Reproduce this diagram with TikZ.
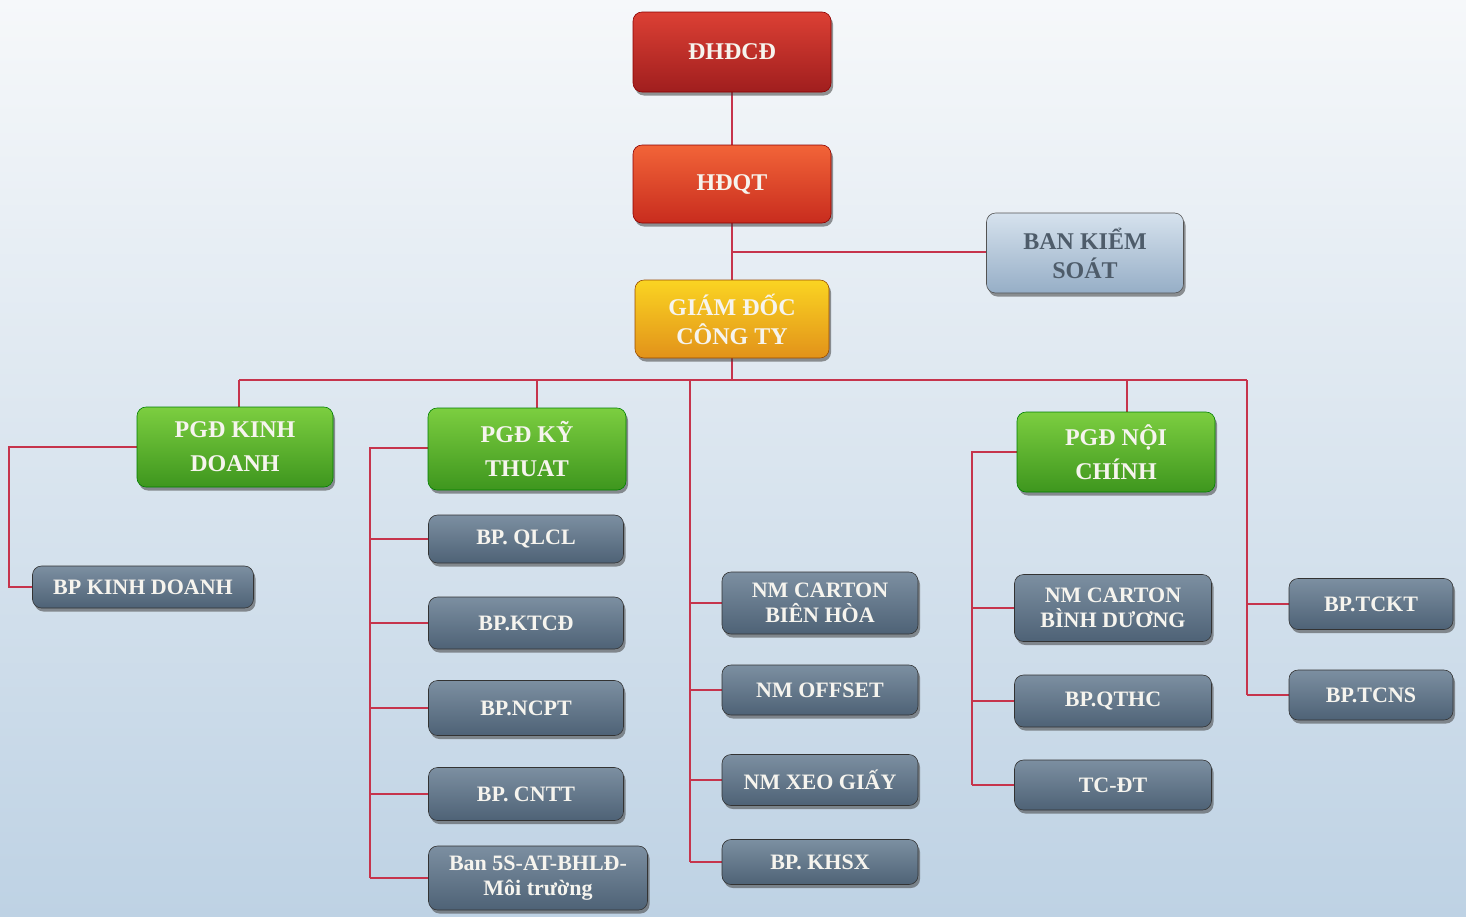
\documentclass[tikz,border=0pt]{standalone}
\usepackage{fontspec}
\setmainfont{Liberation Serif}
\usetikzlibrary{shadows}
\pgfdeclarelayer{bg}
\pgfdeclarelayer{lines}
\pgfsetlayers{bg,lines,main}
\definecolor{linered}{RGB}{198,52,76}
\definecolor{bgtop}{RGB}{246,248,250}
\definecolor{bgbot}{RGB}{190,210,228}
\definecolor{txtw}{RGB}{246,244,238}
\definecolor{txtb}{RGB}{78,92,106}
\begin{document}
\begin{tikzpicture}[x=1pt,y=-1pt,
  box/.style={rounded corners=9pt, align=center, inner sep=0pt, text=txtw,
    line width=0.6pt,
    drop shadow={shadow xshift=2pt, shadow yshift=-3.5pt, opacity=0.55, fill=black!75}},
  topfont/.style={font=\fontsize{24}{29}\selectfont\bfseries},
  grnfont/.style={font=\fontsize{24}{34}\selectfont\bfseries},
  gryfont/.style={font=\fontsize{22}{25}\selectfont\bfseries},
  redbox/.style={box, topfont, draw=black!45!red, top color={rgb,255:red,220;green,64;blue,52}, bottom color={rgb,255:red,160;green,30;blue,30}, minimum width=198pt, minimum height=80pt},
  orbox/.style={box, topfont, draw=black!45!red, top color={rgb,255:red,242;green,100;blue,56}, bottom color={rgb,255:red,200;green,44;blue,30}, minimum width=198pt, minimum height=78pt},
  goldbox/.style={box, topfont, draw=black!40!orange, top color={rgb,255:red,250;green,212;blue,34}, bottom color={rgb,255:red,226;green,146;blue,26}, minimum width=194pt, minimum height=78pt},
  lightbox/.style={box, topfont, text=txtb, draw=black!35!gray, top color={rgb,255:red,214;green,226;blue,238}, bottom color={rgb,255:red,150;green,174;blue,198}, minimum width=197pt, minimum height=80pt},
  grnbox/.style={box, grnfont, draw=black!50!green, top color={rgb,255:red,124;green,206;blue,64}, bottom color={rgb,255:red,62;green,150;blue,30}, minimum width=197pt, minimum height=80pt},
  grybox/.style={box, gryfont, draw=black!60!gray, top color={rgb,255:red,124;green,143;blue,161}, bottom color={rgb,255:red,78;green,98;blue,118}, minimum width=196pt, minimum height=50pt},
  conn/.style={draw=linered, line width=2.8pt}
]
\useasboundingbox (0,0) rectangle (1466,916);
\begin{pgfonlayer}{bg}
\fill[top color=bgtop, bottom color=bgbot] (0,0) rectangle (1466,916);
\end{pgfonlayer}

% top chain
\node[redbox] (dhdcd) at (732,52) {ĐHĐCĐ};
\node[orbox] (hdqt) at (732,184) {HĐQT};
\node[lightbox] (bks) at (1085,253) {BAN KIỂM\\SOÁT};
\node[goldbox] (gd) at (732,319) {GIÁM ĐỐC\\CÔNG TY};

% deputies
\node[grnbox, minimum width=196pt] (kd) at (235,447) {PGĐ KINH\\DOANH};
\node[grnbox, minimum width=198pt, minimum height=82pt] (kt) at (527,449) {PGĐ KỸ\\THUAT};
\node[grnbox, minimum width=198pt] (nc) at (1116,452) {PGĐ NỘI\\CHÍNH};

% departments
\node[grybox, minimum width=221pt, minimum height=42pt] (bpkd) at (143,587) {BP KINH DOANH};

\node[grybox, minimum width=195pt, minimum height=48pt] (qlcl) at (526,539) {BP. QLCL};
\node[grybox, minimum width=195pt, minimum height=52pt] (ktcd) at (526,623) {BP.KTCĐ};
\node[grybox, minimum width=195pt, minimum height=55pt] (ncpt) at (526,708) {BP.NCPT};
\node[grybox, minimum width=195pt, minimum height=53pt] (cntt) at (526,794) {BP. CNTT};
\node[grybox, minimum width=219pt, minimum height=64pt] (ban) at (538,878) {Ban 5S-AT-BHLĐ-\\Môi trường};

\node[grybox, minimum height=62pt] (nmbh) at (820,603) {NM CARTON\\BIÊN HÒA};
\node[grybox, minimum height=50pt] (offs) at (820,690) {NM OFFSET};
\node[grybox, minimum height=51pt] (xeo) at (820,780) {NM XEO GIẤY};
\node[grybox, minimum height=45pt] (khsx) at (820,862) {BP. KHSX};

\node[grybox, minimum width=197pt, minimum height=67pt] (nmbd) at (1113,608) {NM CARTON\\BÌNH DƯƠNG};
\node[grybox, minimum width=197pt, minimum height=52pt] (qthc) at (1113,701) {BP.QTHC};
\node[grybox, minimum width=197pt, minimum height=50pt] (tcdt) at (1113,785) {TC-ĐT};

\node[grybox, minimum width=164pt, minimum height=51pt] (tckt) at (1371,604) {BP.TCKT};
\node[grybox, minimum width=164pt, minimum height=50pt] (tcns) at (1371,695) {BP.TCNS};

% connectors
\coordinate (bksj) at (732,252);
\coordinate (busL) at (239,380);
\coordinate (busR) at (1247,380);
\coordinate (busG) at (732,380);
\coordinate (busKT) at (537,380);
\coordinate (busNM) at (690,380);
\coordinate (busNC) at (1127,380);
\coordinate (kdL) at (9,447);
\coordinate (ktL) at (370,448);
\coordinate (ncL) at (972,452);

\begin{pgfonlayer}{lines}
\draw[conn] (dhdcd.south) -- (hdqt.north);
\draw[conn] (hdqt.south) -- (gd.north);
\draw[conn] (bksj) -- (bksj -| bks.west);
\draw[conn] (gd.south) -- (busG);
\draw[conn] (busL) -- (busR);
\draw[conn] (busL) -- (busL |- kd.north);
\draw[conn] (busKT) -- (busKT |- kt.north);
\draw[conn] (busNC) -- (busNC |- nc.north);

% PGD kinh doanh
\draw[conn] (kd.west |- kdL) -- (kdL) -- (kdL |- bpkd.west) -- (bpkd.west);

% PGD ky thuat
\draw[conn] (kt.west |- ktL) -- (ktL) -- (ktL |- ban.west);
\foreach \n in {qlcl,ktcd,ncpt,cntt,ban}
  \draw[conn] (ktL |- \n.west) -- (\n.west);

% NM column
\draw[conn] (busNM) -- (busNM |- khsx.west);
\foreach \n in {nmbh,offs,xeo,khsx}
  \draw[conn] (busNM |- \n.west) -- (\n.west);

% PGD noi chinh
\draw[conn] (nc.west |- ncL) -- (ncL) -- (ncL |- tcdt.west);
\foreach \n in {nmbd,qthc,tcdt}
  \draw[conn] (ncL |- \n.west) -- (\n.west);

% right column
\draw[conn] (busR) -- (busR |- tcns.west);
\foreach \n in {tckt,tcns}
  \draw[conn] (busR |- \n.west) -- (\n.west);
\end{pgfonlayer}
\end{tikzpicture}
\end{document}
